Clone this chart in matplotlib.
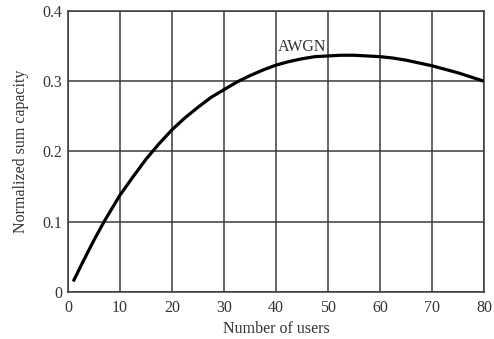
import numpy as np
import matplotlib.pyplot as plt

plt.rcParams['font.family'] = ['Liberation Serif', 'DejaVu Serif']

# values
users = [1, 3, 5, 7, 10, 12.5, 15, 17.5, 20, 22.5, 25, 27.5, 30, 32.5, 35, 37.5,
         40, 42.5, 45, 47.5, 50, 52.5, 55, 57.5, 60, 62.5, 65, 67.5, 70, 72.5,
         75, 77.5, 80]
capacity = [0.015, 0.045, 0.074, 0.101, 0.138, 0.164, 0.189, 0.211, 0.231, 0.248,
            0.263, 0.277, 0.288, 0.299, 0.308, 0.316, 0.323, 0.328, 0.332, 0.335,
            0.336, 0.337, 0.337, 0.336, 0.335, 0.333, 0.330, 0.326, 0.322, 0.317,
            0.312, 0.306, 0.300]
xticks = [0, 10, 20, 30, 40, 50, 60, 70, 80]
yticks = [0, 0.1, 0.2, 0.3, 0.4]
yticklabels = ['0', '0.1', '0.2', '0.3', '0.4']

fig = plt.figure(figsize=(4.94, 3.39), dpi=100)
ax = fig.add_axes([0.1377, 0.1386, 0.8421, 0.829])

gc = '#3a3a3a'
tc = '#333333'
ax.plot(users, capacity, color='black', lw=2.3, solid_capstyle='butt', zorder=3)
ax.text(40.4, 0.349, 'AWGN', fontsize=11.5, ha='left', va='center', color=tc)

ax.set_xlim(0, 80)
ax.set_ylim(0, 0.4)
ax.set_xticks(xticks)
ax.set_yticks(yticks)
ax.set_yticklabels(yticklabels)
ax.grid(True, color=gc, lw=1.1)
ax.tick_params(length=0, labelsize=11.5, colors=tc, pad=4)
ax.tick_params(axis='x', pad=5.5)
for s in ax.spines.values():
    s.set_color(gc)
    s.set_linewidth(1.1)

ax.set_xlabel('Number of users', fontsize=11.5, color=tc, labelpad=4)
ax.set_ylabel('Normalized sum capacity', fontsize=11.5, color=tc, labelpad=10)

fig.savefig('out.png', dpi=100)
